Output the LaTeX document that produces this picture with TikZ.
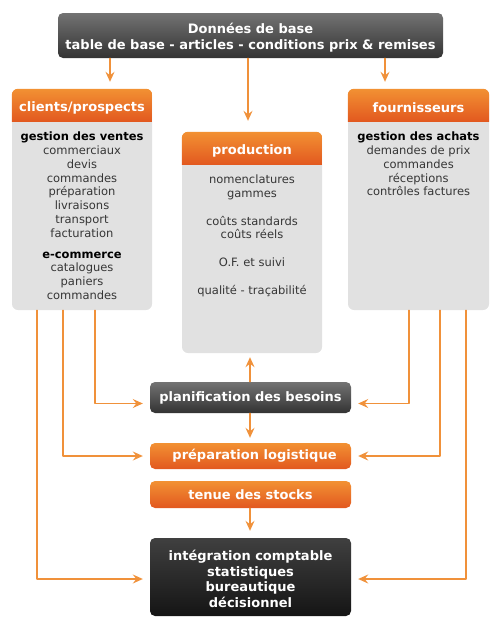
\documentclass[tikz,border=0pt]{standalone}
\usepackage{fontspec}
\setmainfont{DejaVu Sans}
\usetikzlibrary{arrows.meta,positioning}
\definecolor{orangeA}{HTML}{F29133}
\definecolor{orangeB}{HTML}{E2581F}
\definecolor{flowc}{HTML}{F0913A}
\definecolor{panelc}{HTML}{E1E1E1}
\definecolor{texte}{HTML}{363636}
\tikzset{
  flow/.style={draw=flowc,line width=1.1pt,-{Stealth[length=10pt,width=9pt,inset=3.5pt]},shorten >=7pt},
  panel/.style={fill=panelc,rounded corners=6pt,minimum width=140pt,minimum height=221pt,inner sep=0pt},
  darkbox/.style={rounded corners=5pt,top color=black!55,bottom color=black!80,text=white,font=\bfseries,inner sep=0pt,minimum width=201pt},
  orangebox/.style={rounded corners=5pt,top color=orangeA,bottom color=orangeB,text=white,font=\bfseries,inner sep=0pt,minimum width=201pt},
  headtext/.style={text=white,font=\fontsize{13}{15}\selectfont\bfseries},
  bodytext/.style={text=texte,font=\fontsize{11.5}{13.8}\selectfont,align=center,anchor=north,inner sep=0pt}
}
\begin{document}
\begin{tikzpicture}[x=1pt,y=-1pt,line join=round,line cap=round]
\useasboundingbox (0,0) rectangle (500,629);
%bloc du haut
\node[darkbox,minimum width=385pt,minimum height=45pt] (base) at (250.5,35.5) {};
\node[headtext,align=center,font=\fontsize{13}{16}\selectfont\bfseries] (base-txt) at ([yshift=-2pt]base.center) {Données de base\\table de base - articles - conditions prix \& remises};
%les trois modules
\node[panel] (cli) at (82,199.5) {};
\node[panel] (prod) at (252,242.5) {};
\node[panel,minimum width=141pt] (four) at (418.5,199.5) {};
\foreach \p/\t in {cli/{clients/prospects},prod/production,four/fournisseurs}{
  \begin{scope}
    \clip[rounded corners=6pt] (\p.south west) rectangle (\p.north east);
    \shade[top color=orangeA,bottom color=orangeB] (\p.north west) rectangle ([yshift=-33pt]\p.north east);
  \end{scope}
  \node[headtext] (\p-titre) at ([yshift=-19pt]\p.north) {\t};
}
\node[bodytext] (cli-txt) at ([yshift=-43pt]cli.north) {\textbf{\color{black}gestion des ventes}\\commerciaux\\devis\\commandes\\préparation\\livraisons\\transport\\facturation\\[7pt]\textbf{\color{black}e-commerce}\\catalogues\\paniers\\commandes};
\node[bodytext] (prod-txt) at ([yshift=-43pt]prod.north) {nomenclatures\\gammes\\[13.8pt]coûts standards\\coûts réels\\[13.8pt]O.F. et suivi\\[13.8pt]qualité - traçabilité};
\node[bodytext] (four-txt) at ([yshift=-43pt]four.north) {\textbf{\color{black}gestion des achats}\\demandes de prix\\commandes\\réceptions\\contrôles factures};
%les blocs du bas
\node[darkbox,minimum height=31pt,font=\fontsize{13}{15}\selectfont\bfseries] (plan) at (250.5,397.5) {planification des besoins};
\node[orangebox,minimum height=26pt,font=\fontsize{13}{15}\selectfont\bfseries] (prep) at (250.5,456) {\hspace{8pt}préparation logistique};
\node[orangebox,minimum height=27pt,font=\fontsize{13}{15}\selectfont\bfseries] (stock) at (250.5,494.5) {tenue des stocks};
\node[darkbox,top color=black!75,bottom color=black!92,minimum height=78pt] (integ) at (250.5,577) {};
\node[headtext,align=center,font=\fontsize{13}{15.7}\selectfont\bfseries] (integ-txt) at ([yshift=-2pt]integ.center) {intégration comptable\\statistiques\\bureautique\\décisionnel};
%fleches
\draw[flow] (base.south -| 110,0) -- (cli.north -| 110,0);
\draw[flow,shorten >=11pt] (base.south -| 248,0) -- (prod.north -| 248,0);
\draw[flow] (base.south -| 385,0) -- (four.north -| 385,0);
\draw[flow,shorten >=4pt] (plan.north -| 250,0) -- (prod.south -| 250,0);
\draw[flow,shorten >=5pt] (plan.south -| 250,0) -- (prep.north -| 250,0);
\draw[flow] (stock.south -| 250,0) -- (integ.north -| 250,0);
\foreach \x/\b/\d in {95/plan/-6,63/prep/0,37/integ/-2}
  \draw[flow] (cli.south -| \x,0) |- ([yshift=\d pt]\b.west);
\foreach \x/\b/\d in {409/plan/-6,440/prep/0,466/integ/-2}
  \draw[flow] (four.south -| \x,0) |- ([yshift=\d pt]\b.east);
\end{tikzpicture}
\end{document}
